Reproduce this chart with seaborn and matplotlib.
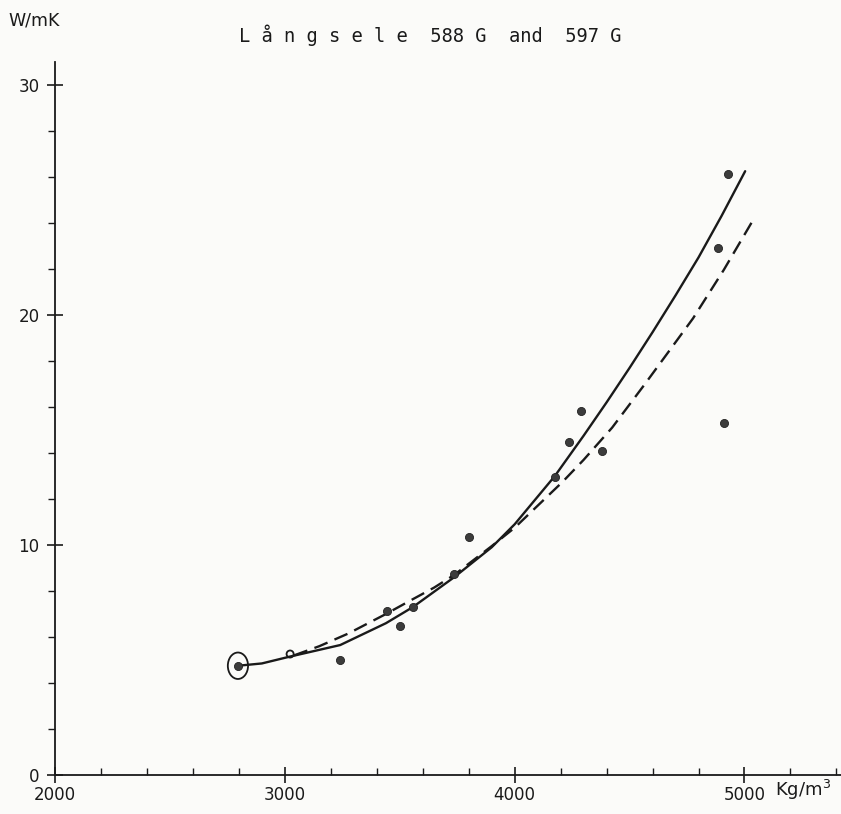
import numpy as np
import pandas as pd
import matplotlib
matplotlib.use("Agg")
import matplotlib.pyplot as plt
from matplotlib.patches import Ellipse
from matplotlib.ticker import MultipleLocator
import seaborn as sns

density = [2796, 3023, 3241, 3444, 3503, 3557, 3737, 3800, 4175, 4237, 4289, 4382, 4886, 4911, 4929]
conductivity = [4.75, 5.26, 5.0, 7.14, 6.48, 7.32, 8.74, 10.33, 12.94, 14.47, 15.81, 14.09, 22.91, 15.32, 26.12]
hollow = [False, True] + [False] * 13   # the second point is drawn open
circled = 0                              # first point has a ring round it

# solid fitted curve
solid_x = [2796, 2900, 3023, 3241, 3440, 3557, 3737, 3900, 4000, 4175, 4300, 4400, 4500,
           4600, 4700, 4800, 4900, 5003]
solid_y = [4.75, 4.85, 5.15, 5.65, 6.6, 7.3, 8.6, 9.9, 10.9, 13.0, 14.75, 16.2, 17.7,
           19.25, 20.85, 22.5, 24.3, 26.25]

# dashed curve
dash_x = [3040, 3150, 3276, 3440, 3549, 3650, 3737, 3900, 4000, 4209, 4300, 4424, 4567,
          4776, 4910, 5040]
dash_y = [5.2, 5.6, 6.15, 7.0, 7.6, 8.15, 8.7, 9.95, 10.75, 12.75, 13.7, 15.1, 17.0,
          19.85, 21.96, 24.17]

x_ticks = [2000, 3000, 4000, 5000]
y_ticks = [0, 10, 20, 30]

paper = "#fbfbf9"
ink = "#1a1a1a"

df = pd.DataFrame({"density": density, "k": conductivity, "hollow": hollow})

sns.set_style("ticks")
plt.rcParams["font.family"] = ["DejaVu Sans"]

fig = plt.figure(figsize=(8.41, 8.14), dpi=100, facecolor=paper)
ax = fig.add_axes([0.0654, 0.0479, 0.9346, 0.876])
ax.set_facecolor(paper)

sns.lineplot(x=solid_x, y=solid_y, ax=ax, color=ink, lw=1.7, sort=False, estimator=None)
sns.lineplot(x=dash_x, y=dash_y, ax=ax, color=ink, lw=1.7, sort=False, estimator=None,
             linestyle=(0, (6, 3.2)))

sns.scatterplot(data=df[~df.hollow], x="density", y="k", ax=ax, s=34,
                color="#3c3c3c", edgecolor="#222222", linewidth=0.6, zorder=5)
sns.scatterplot(data=df[df.hollow], x="density", y="k", ax=ax, s=26, marker="o",
                facecolor="none", edgecolor=ink, linewidth=1.3, zorder=5)

ring = Ellipse((density[circled], conductivity[circled]), width=88, height=1.15,
               fill=False, lw=1.3, edgecolor=ink, zorder=6)
ax.add_patch(ring)

ax.set_xlim(2000, 5420)
ax.set_ylim(0, 31)
sns.despine(ax=ax)
for side in ["left", "bottom"]:
    ax.spines[side].set_linewidth(1.3)
    ax.spines[side].set_color(ink)

ax.set_xticks(x_ticks)
ax.set_xticklabels([str(t) for t in x_ticks])
ax.set_yticks(y_ticks)
ax.set_yticklabels([str(t) for t in y_ticks])
ax.xaxis.set_minor_locator(MultipleLocator(200))
ax.yaxis.set_minor_locator(MultipleLocator(2))

ax.tick_params(axis="both", which="major", direction="inout", length=12, width=1.2,
               colors=ink, labelsize=12)
ax.tick_params(axis="x", which="major", pad=2)
ax.tick_params(axis="y", which="major", pad=5)
ax.tick_params(axis="x", which="minor", direction="in", length=5, width=1, colors=ink)
ax.tick_params(axis="y", which="minor", direction="out", length=5, width=1, colors=ink)
ax.set_xlabel("")
ax.set_ylabel("")

fig.text(0.01, 0.975, "W/mK", fontsize=12.5, color=ink, va="center", ha="left")
fig.text(0.921, 0.0295, "Kg/m$^3$", fontsize=13, color=ink, va="center", ha="left")
fig.text(0.512, 0.957, "L å n g s e l e  588 G  and  597 G", fontsize=13.5,
         family="DejaVu Sans Mono", color=ink, va="center", ha="center")

fig.savefig("out.png", dpi=100, facecolor=paper)
